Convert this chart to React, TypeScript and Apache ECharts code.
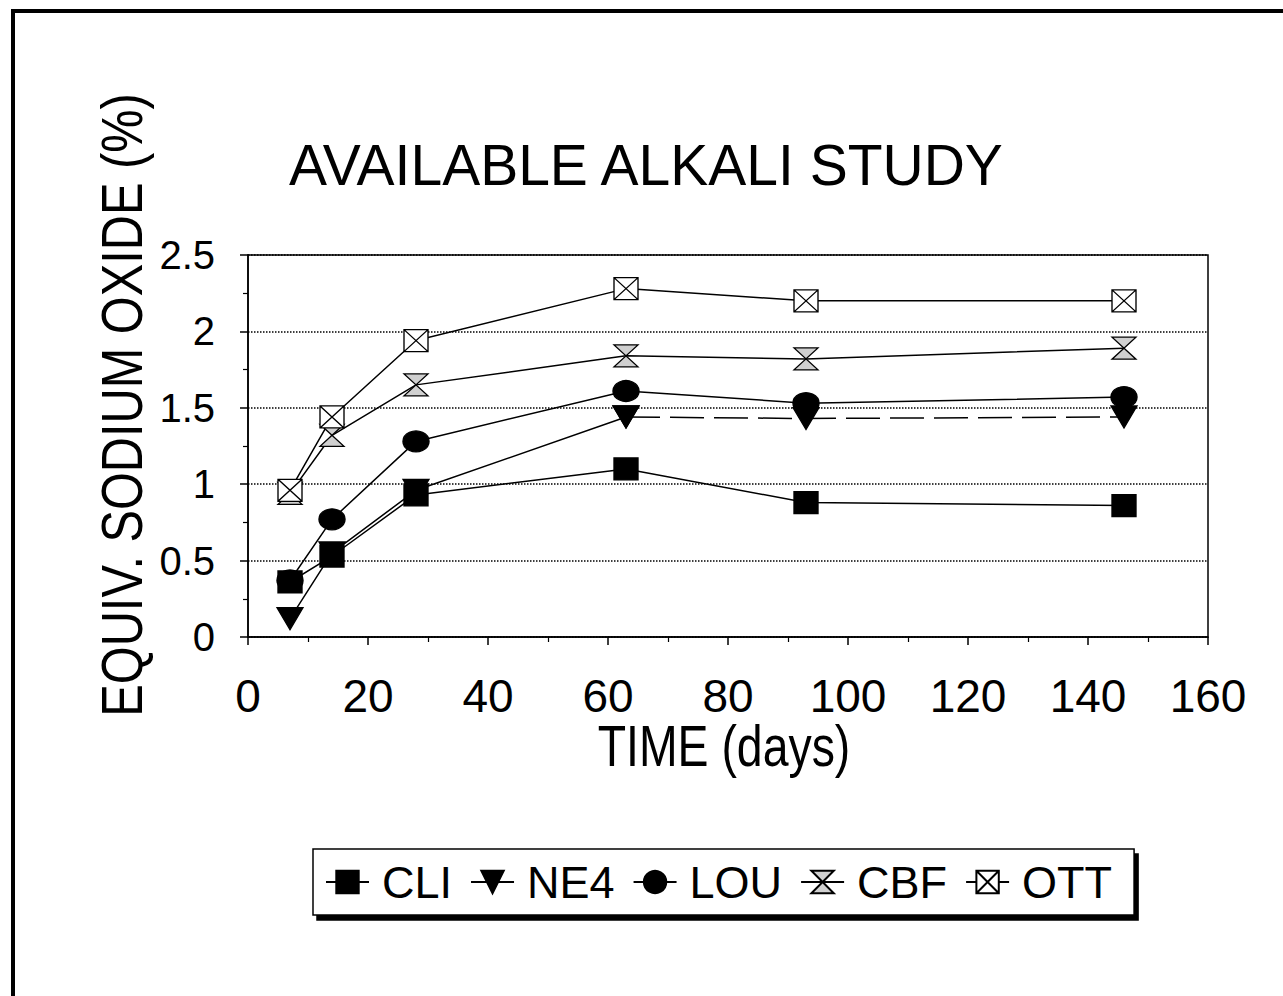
import React, { useEffect, useRef } from "react";
import * as echarts from "echarts";

const days = [7, 14, 28, 63, 93, 146];
const cli = [0.36, 0.53, 0.93, 1.1, 0.88, 0.86];
const ne4 = [0.12, 0.55, 0.96, 1.44, 1.43, 1.44];
const lou = [0.37, 0.77, 1.28, 1.61, 1.53, 1.57];
const cbf = [0.94, 1.32, 1.65, 1.84, 1.82, 1.89];
const ott = [0.96, 1.44, 1.94, 2.28, 2.2, 2.2];
const seriesNames = ["CLI", "NE4", "LOU", "CBF", "OTT"];

const ARIAL = "'Liberation Sans', Arial, sans-serif";

const SYM_TRI = "path://M0,0L20,0L10,17Z";
const SYM_HOUR = "path://M0,0L20,0L0,22L20,22Z";
const SYM_BOXX = "path://M0,0L20,0L20,20L0,20Z M0,0L20,20 M20,0L0,20";

function pts(xs: number[], ys: number[]) {
  return xs.map((d, i) => [d, ys[i]]);
}

function mk(name: string, data: number[][], symbol: string, size: any, fill: string, z: number, dashed = false) {
  return {
    type: "line",
    name,
    data,
    symbol,
    symbolSize: size,
    z,
    lineStyle: { color: "#000", width: 1.5, type: dashed ? [34, 10] : "solid" },
    itemStyle: { color: fill, borderColor: "#000", borderWidth: 1.3 },
    emphasis: { disabled: true },
  };
}

export default function App() {
  const ref = useRef<HTMLDivElement>(null);
  useEffect(() => {
    document.body.style.margin = "0";
    const chart = echarts.init(ref.current!, null, { renderer: "svg" });
    chart.setOption({
      animation: false,
      backgroundColor: "#fff",
      title: {
        text: "AVAILABLE ALKALI STUDY",
        left: 284,
        top: 131,
        textStyle: { fontSize: 57, fontWeight: "normal", fontFamily: ARIAL, color: "#000" },
      },
      grid: {
        left: 248,
        top: 255,
        width: 960,
        height: 382,
        show: true,
        borderColor: "#000",
        borderWidth: 1.5,
        backgroundColor: "transparent",
      },
      legend: {
        data: seriesNames,
        left: 313,
        top: 849,
        orient: "horizontal",
        padding: [8, 22, 8, 12],
        itemWidth: 43,
        itemHeight: 28,
        itemGap: 18,
        backgroundColor: "#fff",
        borderColor: "#000",
        borderWidth: 1.5,
        shadowColor: "#000",
        shadowOffsetX: 4,
        shadowOffsetY: 5,
        shadowBlur: 0,
        textStyle: {
          fontSize: 45,
          fontFamily: ARIAL,
          color: "#000",
          padding: [0, 0, 0, 8],
          lineHeight: 50,
        },
        selectedMode: false,
      },
      xAxis: {
        type: "value",
        min: 0,
        max: 160,
        interval: 20,
        axisLine: { show: true, lineStyle: { color: "#000", width: 1.5 } },
        axisTick: { show: true, length: 8, lineStyle: { color: "#000", width: 1.5 } },
        minorTick: { show: true, splitNumber: 2, length: 5, lineStyle: { color: "#000", width: 1.2 } },
        axisLabel: { fontSize: 46, fontFamily: ARIAL, color: "#000", margin: 37, lineHeight: 44 },
        splitLine: { show: false },
      },
      yAxis: {
        type: "value",
        min: 0,
        max: 2.5,
        interval: 0.5,
        axisLine: { show: true, lineStyle: { color: "#000", width: 1.5 } },
        axisTick: { show: true, length: 8, lineStyle: { color: "#000", width: 1.5 } },
        minorTick: { show: true, splitNumber: 2, length: 5, lineStyle: { color: "#000", width: 1.2 } },
        axisLabel: { fontSize: 40, fontFamily: ARIAL, color: "#000", margin: 33 },
        splitLine: { show: true, lineStyle: { color: "#000", width: 1.5, type: "dotted" } },
      },
      graphic: [
        { type: "line", shape: { x1: 13, y1: 9, x2: 13, y2: 996 }, style: { stroke: "#000", lineWidth: 4 } },
        { type: "line", shape: { x1: 11, y1: 11, x2: 1283, y2: 11 }, style: { stroke: "#000", lineWidth: 4 } },
        {
          type: "text",
          x: 122,
          y: 405,
          rotation: Math.PI / 2,
          scaleX: 0.84,
          style: {
            text: "EQUIV. SODIUM OXIDE (%)",
            fontSize: 58,
            fontFamily: ARIAL,
            lineHeight: 50,
            fill: "#000",
            align: "center",
            verticalAlign: "middle",
            textAlign: "center",
            textVerticalAlign: "middle",
          },
        },
        {
          type: "text",
          x: 724,
          y: 746,
          scaleX: 0.8,
          style: {
            text: "TIME (days)",
            fontSize: 58,
            fontFamily: ARIAL,
            lineHeight: 50,
            fill: "#000",
            align: "center",
            verticalAlign: "middle",
            textAlign: "center",
            textVerticalAlign: "middle",
          },
        },
      ],
      series: [
        mk("NE4", pts(days.slice(0, 4), ne4.slice(0, 4)), SYM_TRI, [26, 22], "#000", 2),
        mk("NE4", pts(days.slice(3), ne4.slice(3)), SYM_TRI, [26, 22], "#000", 2, true),
        mk("CLI", pts(days, cli), "rect", [24, 22], "#000", 4),
        mk("LOU", pts(days, lou), "circle", [26, 21], "#000", 3),
        mk("CBF", pts(days, cbf), SYM_HOUR, [24, 22], "#d0d0d0", 3),
        mk("OTT", pts(days, ott), SYM_BOXX, [24, 22], "#fff", 3),
      ],
    });
    return () => chart.dispose();
  }, []);
  return <div ref={ref} style={{ width: 1283, height: 996, overflow: "hidden" }} />;
}
